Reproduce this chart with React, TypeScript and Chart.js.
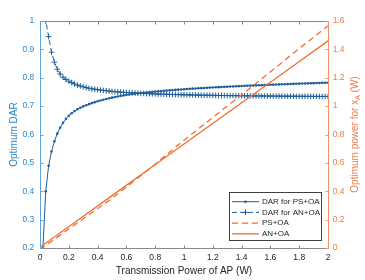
import React, { useEffect, useRef } from "react";
import { Chart, registerables } from "chart.js";
Chart.register(...registerables);

// ---------- data ----------
const powerW = [
  0.02, 0.04, 0.06, 0.08, 0.1, 0.12, 0.14, 0.16, 0.18, 0.2,
  0.22, 0.24, 0.26, 0.28, 0.3, 0.32, 0.34, 0.36, 0.38, 0.4,
  0.42, 0.44, 0.46, 0.48, 0.5, 0.52, 0.54, 0.56, 0.58, 0.6,
  0.62, 0.64, 0.66, 0.68, 0.7, 0.72, 0.74, 0.76, 0.78, 0.8,
  0.82, 0.84, 0.86, 0.88, 0.9, 0.92, 0.94, 0.96, 0.98, 1.0,
  1.02, 1.04, 1.06, 1.08, 1.1, 1.12, 1.14, 1.16, 1.18, 1.2,
  1.22, 1.24, 1.26, 1.28, 1.3, 1.32, 1.34, 1.36, 1.38, 1.4,
  1.42, 1.44, 1.46, 1.48, 1.5, 1.52, 1.54, 1.56, 1.58, 1.6,
  1.62, 1.64, 1.66, 1.68, 1.7, 1.72, 1.74, 1.76, 1.78, 1.8,
  1.82, 1.84, 1.86, 1.88, 1.9, 1.92, 1.94, 1.96, 1.98, 2.0,
];

const darPS = [
  0.2, 0.4, 0.49, 0.54, 0.576, 0.603, 0.624, 0.641, 0.655, 0.666,
  0.675, 0.6825, 0.689, 0.6945, 0.699, 0.703, 0.707, 0.7105, 0.714, 0.717,
  0.7198, 0.7225, 0.725, 0.7275, 0.7298, 0.732, 0.734, 0.736, 0.7378, 0.7395,
  0.741, 0.7425, 0.7438, 0.745, 0.7461, 0.7472, 0.7482, 0.7492, 0.7502, 0.7512,
  0.7521, 0.753, 0.7539, 0.7548, 0.7556, 0.7564, 0.7572, 0.758, 0.7587, 0.7594,
  0.7601, 0.7608, 0.7615, 0.7621, 0.7628, 0.7634, 0.764, 0.7646, 0.7652, 0.7658,
  0.7663, 0.7669, 0.7674, 0.7679, 0.7684, 0.7689, 0.7694, 0.7699, 0.7704, 0.7709,
  0.7714, 0.7718, 0.7723, 0.7727, 0.7732, 0.7736, 0.774, 0.7745, 0.7749, 0.7753,
  0.7757, 0.7761, 0.7765, 0.7769, 0.7773, 0.7777, 0.778, 0.7784, 0.7788, 0.7792,
  0.7795, 0.7799, 0.7802, 0.7806, 0.7809, 0.7813, 0.7816, 0.782, 0.7823, 0.7826,
];

const darAN = [
  1.1, 1.0, 0.945, 0.89, 0.855, 0.83, 0.813, 0.802, 0.794, 0.788,
  0.783, 0.778, 0.774, 0.771, 0.768, 0.7655, 0.763, 0.761, 0.7596, 0.758,
  0.7566, 0.7553, 0.7541, 0.753, 0.752, 0.7511, 0.7502, 0.7494, 0.7487, 0.748,
  0.7474, 0.7468, 0.7462, 0.7456, 0.7451, 0.7447, 0.7442, 0.7438, 0.7434, 0.743,
  0.7426, 0.7423, 0.742, 0.7416, 0.7413, 0.741, 0.7408, 0.7405, 0.7402, 0.74,
  0.7398, 0.7395, 0.7393, 0.7391, 0.7389, 0.7387, 0.7385, 0.7383, 0.7382, 0.738,
  0.7378, 0.7377, 0.7375, 0.7374, 0.7372, 0.7371, 0.737, 0.7368, 0.7367, 0.7366,
  0.7365, 0.7363, 0.7362, 0.7361, 0.736, 0.7359, 0.7358, 0.7357, 0.7356, 0.7355,
  0.7354, 0.7353, 0.7352, 0.7351, 0.7351, 0.735, 0.7349, 0.7348, 0.7347, 0.7347,
  0.7346, 0.7345, 0.7345, 0.7344, 0.7343, 0.7343, 0.7342, 0.7341, 0.7341, 0.734,
];

const linePowerW = [0, 0.25, 0.5, 0.75, 1.0, 1.25, 1.5, 1.75, 2.0];
const powerPS = [-0.01, 0.17, 0.35, 0.55, 0.76, 0.96, 1.16, 1.365, 1.567];
const powerAN = [0.005, 0.187, 0.369, 0.551, 0.733, 0.914, 1.096, 1.278, 1.46];

const seriesNames = ["DAR for PS+OA", "DAR for AN+OA", "PS+OA", "AN+OA"];
const xTitle = "Transmission Power of AP (W)";
const yLeftTitle = "Optimum DAR";
const yRightTitle = ["Optimum power for x", "A", " (W)"];

// ---------- styles ----------
const BLUE_LINE = "#1f5f9a";
const BLUE_AXIS = "#2a88cf";
const BLUE_AXIS_LINE = "#5fa2d8";
const ORANGE_LINE = "#f0702f";
const ORANGE_AXIS = "#ef7a42";
const ORANGE_AXIS_LINE = "#f0946a";
const GRAY_TEXT = "#262626";
const GRAY_LINE = "#8a8a8a";
const FONT = "'Liberation Sans', Arial, Helvetica, sans-serif";

const fmt = (v: number) => String(Math.round(v * 10) / 10);

const framePlugin = {
  id: "frame",
  afterDatasetsDraw(chart: any) {
    const { ctx, chartArea: a, scales } = chart;
    const L = Math.round(a.left) + 0.5;
    const R = Math.round(a.right) + 0.5;
    const T = Math.round(a.top) + 0.5;
    const B = Math.round(a.bottom) + 0.5;
    const TL = 3;
    ctx.save();
    ctx.lineWidth = 1;
    ctx.setLineDash([]);
    ctx.strokeStyle = GRAY_LINE;
    ctx.beginPath();
    ctx.moveTo(L, T); ctx.lineTo(R, T);
    ctx.moveTo(L, B); ctx.lineTo(R, B);
    scales.x.ticks.forEach((t: any) => {
      const px = Math.round(scales.x.getPixelForValue(t.value)) + 0.5;
      ctx.moveTo(px, B); ctx.lineTo(px, B - TL);
      ctx.moveTo(px, T); ctx.lineTo(px, T + TL);
    });
    ctx.stroke();
    ctx.strokeStyle = BLUE_AXIS_LINE;
    ctx.beginPath();
    ctx.moveTo(L, T); ctx.lineTo(L, B);
    scales.y.ticks.forEach((t: any) => {
      const py = Math.round(scales.y.getPixelForValue(t.value)) + 0.5;
      ctx.moveTo(L, py); ctx.lineTo(L + TL, py);
    });
    ctx.stroke();
    ctx.strokeStyle = ORANGE_AXIS_LINE;
    ctx.beginPath();
    ctx.moveTo(R, T); ctx.lineTo(R, B);
    scales.y1.ticks.forEach((t: any) => {
      const py = Math.round(scales.y1.getPixelForValue(t.value)) + 0.5;
      ctx.moveTo(R, py); ctx.lineTo(R - TL, py);
    });
    ctx.stroke();
    ctx.restore();
  },
  afterDraw(chart: any) {
    const { ctx, chartArea: a } = chart;
    ctx.save();
    const big = `10px ${FONT}`;
    const small = `7px ${FONT}`;
    ctx.font = big;
    const w1 = ctx.measureText(yRightTitle[0]).width;
    const w3 = ctx.measureText(yRightTitle[2]).width;
    ctx.font = small;
    const w2 = ctx.measureText(yRightTitle[1]).width;
    ctx.translate(355, (a.top + a.bottom) / 2);
    ctx.rotate(-Math.PI / 2);
    ctx.fillStyle = ORANGE_AXIS;
    ctx.textBaseline = "middle";
    ctx.textAlign = "left";
    let x = -(w1 + w2 + w3) / 2;
    ctx.font = big;
    ctx.fillText(yRightTitle[0], x, 0);
    x += w1;
    ctx.font = small;
    ctx.fillText(yRightTitle[1], x, 3);
    x += w2;
    ctx.font = big;
    ctx.fillText(yRightTitle[2], x, 0);
    ctx.restore();

    ctx.save();
    const bx = 229.5, by = 192.5, bw = 92, bh = 48;
    ctx.fillStyle = "#ffffff";
    ctx.fillRect(bx, by, bw, bh);
    ctx.strokeStyle = "#404040";
    ctx.lineWidth = 1;
    ctx.strokeRect(bx, by, bw, bh);
    const rows = [201.7, 212.4, 223.1, 233.8];
    ctx.font = `8px ${FONT}`;
    ctx.textBaseline = "middle";
    ctx.textAlign = "left";
    chart.data.datasets.forEach((ds: any, i: number) => {
      const y = rows[i];
      ctx.strokeStyle = ds.borderColor;
      ctx.lineWidth = ds.borderWidth;
      ctx.setLineDash(ds.borderDash || []);
      ctx.beginPath();
      ctx.moveTo(232, y); ctx.lineTo(259, y);
      ctx.stroke();
      ctx.setLineDash([]);
      if (ds.pointRadius > 0) {
        const cx = 245.5;
        if (ds.pointStyle === "cross") {
          ctx.lineWidth = 1;
          ctx.beginPath();
          ctx.moveTo(cx - ds.pointRadius, y); ctx.lineTo(cx + ds.pointRadius, y);
          ctx.moveTo(cx, y - ds.pointRadius); ctx.lineTo(cx, y + ds.pointRadius);
          ctx.stroke();
        } else {
          ctx.fillStyle = ds.borderColor;
          ctx.beginPath();
          ctx.arc(cx, y, ds.pointRadius, 0, Math.PI * 2);
          ctx.fill();
        }
      }
      ctx.fillStyle = GRAY_TEXT;
      ctx.fillText(ds.label, 262, y);
    });
    ctx.restore();
  },
};

export default function App() {
  const ref = useRef<HTMLCanvasElement | null>(null);
  useEffect(() => {
    document.body.style.margin = "0";
    const canvas = ref.current!;
    const chart = new Chart(canvas, {
      type: "line",
      data: {
        datasets: [
          {
            label: seriesNames[0],
            data: powerW.map((x, i) => ({ x, y: darPS[i] })),
            yAxisID: "y",
            borderColor: BLUE_LINE,
            backgroundColor: BLUE_LINE,
            borderWidth: 1,
            pointStyle: "circle",
            pointRadius: 1.3,
            pointBorderWidth: 0,
            pointBackgroundColor: BLUE_LINE,
            order: 2,
          },
          {
            label: seriesNames[1],
            data: powerW.map((x, i) => ({ x, y: darAN[i] })),
            yAxisID: "y",
            borderColor: BLUE_LINE,
            backgroundColor: BLUE_LINE,
            borderWidth: 1,
            borderDash: [5, 3],
            pointStyle: "cross",
            pointRadius: 2.8,
            pointBorderWidth: 1,
            order: 3,
          },
          {
            label: seriesNames[2],
            data: linePowerW.map((x, i) => ({ x, y: powerPS[i] })),
            yAxisID: "y1",
            borderColor: ORANGE_LINE,
            backgroundColor: ORANGE_LINE,
            borderWidth: 1.3,
            borderDash: [6, 4],
            pointRadius: 0,
            order: 1,
          },
          {
            label: seriesNames[3],
            data: linePowerW.map((x, i) => ({ x, y: powerAN[i] })),
            yAxisID: "y1",
            borderColor: ORANGE_LINE,
            backgroundColor: ORANGE_LINE,
            borderWidth: 1.3,
            pointRadius: 0,
            order: 0,
          },
        ] as any,
      },
      options: {
        animation: false,
        responsive: false,
        maintainAspectRatio: false,
        layout: { padding: { top: 21, left: 0, right: 0, bottom: 0 } },
        plugins: { legend: { display: false }, tooltip: { enabled: false } },
        elements: { line: { tension: 0 } },
        scales: {
          x: {
            type: "linear",
            min: 0,
            max: 2,
            grid: { display: false, drawTicks: false },
            border: { display: false },
            ticks: {
              stepSize: 0.2,
              autoSkip: false,
              maxRotation: 0,
              padding: 4.6,
              color: GRAY_TEXT,
              font: { family: FONT, size: 8.5 },
              callback: (v: any) => fmt(Number(v)),
            },
            title: {
              display: true,
              text: xTitle,
              color: GRAY_TEXT,
              font: { family: FONT, size: 10 },
              padding: { top: 0, bottom: 2.3 },
            },
            afterFit: (s: any) => { s.height = 32; },
          },
          y: {
            type: "linear",
            position: "left",
            min: 0.2,
            max: 1,
            grid: { display: false, drawTicks: false },
            border: { display: false },
            ticks: {
              stepSize: 0.1,
              autoSkip: false,
              padding: 5.7,
              color: BLUE_AXIS,
              font: { family: FONT, size: 8.5 },
              callback: (v: any) => fmt(Number(v)),
            },
            title: {
              display: true,
              text: yLeftTitle,
              color: BLUE_AXIS,
              font: { family: FONT, size: 10 },
              padding: { top: 8.5, bottom: 0 },
            },
            afterFit: (s: any) => { s.width = 40; },
          },
          y1: {
            type: "linear",
            position: "right",
            min: 0,
            max: 1.6,
            grid: { display: false, drawTicks: false },
            border: { display: false },
            ticks: {
              stepSize: 0.2,
              autoSkip: false,
              padding: 4.7,
              color: ORANGE_AXIS,
              font: { family: FONT, size: 8.5 },
              callback: (v: any) => fmt(Number(v)),
            },
            afterFit: (s: any) => { s.width = 37; },
          },
        },
      },
      plugins: [framePlugin],
    });
    return () => chart.destroy();
  }, []);
  return (
    <div style={{ width: 365, height: 280 }}>
      <canvas ref={ref} width={365} height={280} />
    </div>
  );
}
